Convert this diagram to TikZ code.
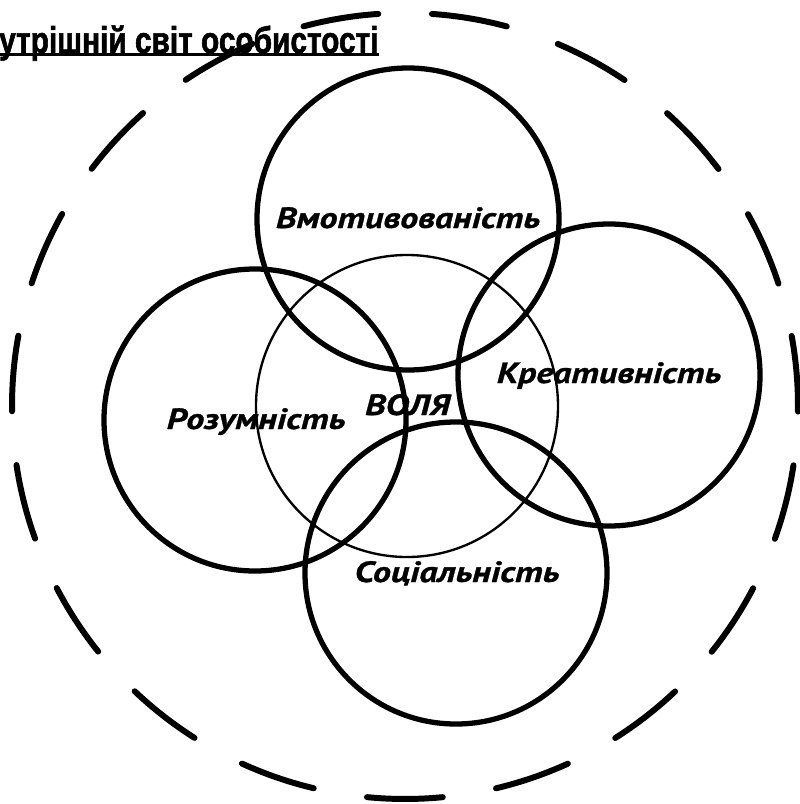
\documentclass[tikz,border=0pt]{standalone}
\usepackage{fontspec}
\setmainfont{Liberation Sans}
\newfontfamily\titlefont[FakeStretch=0.80, FakeBold=1.5]{Liberation Sans Bold}
\newfontfamily\labelfont[FakeStretch=1.23, FakeBold=1]{PT Sans Bold Italic}
\usepackage{tikz}

\begin{document}
\begin{tikzpicture}[x=0.03cm,y=-0.03cm,
    trait/.style={circle, draw, line width=4.5pt, minimum size=9.06cm, inner sep=0pt},
    core/.style={circle, draw, line width=2pt, minimum size=9.06cm, inner sep=0pt},
    word/.style={anchor=base, inner sep=0pt, font=\labelfont\fontsize{25}{30}\selectfont},
    heading/.style={anchor=base west, inner sep=0pt, font=\titlefont\fontsize{31.8}{36}\selectfont},
    world/.style={line width=5.1pt, line cap=round}]
    \useasboundingbox (0,0) rectangle (799,804);

    % title
    \node[heading] (inner) at (-1,53) {утрішній світ особистості};
    \draw[line width=2.8pt] ([yshift=-1.5pt]inner.base west) -- ([yshift=-1.5pt]inner.base east);

    % circles
    \node[core] (volya) at (407,406) {};
    \node[trait] (motiv) at (408,219) {};
    \node[trait] (rozum) at (255,420) {};
    \node[trait] (kreat) at (609,375) {};
    \node[trait] (social) at (456,573) {};

    % outer dashed ring, 19 dashes
    \coordinate (centre) at (405,406);
    \foreach \k in {0,...,18}
        \draw[world] (centre) ++({-86.07+18.95*\k}:393)
            arc[start angle={-86.07+18.95*\k}, end angle={-74.99+18.95*\k}, radius=393];

    % labels
    \node[word] (lmotiv) at (408,228) {Вмотивованість};
    \node[word] (lkreat) at (609,383) {Креативність};
    \node[word] (lrozum) at (256,429) {Розумність};
    \node[word] (lsocial) at (457,582) {Соціальність};
    \node[word] (lvolya) at (407.5,415) {ВОЛЯ};
\end{tikzpicture}
\end{document}
